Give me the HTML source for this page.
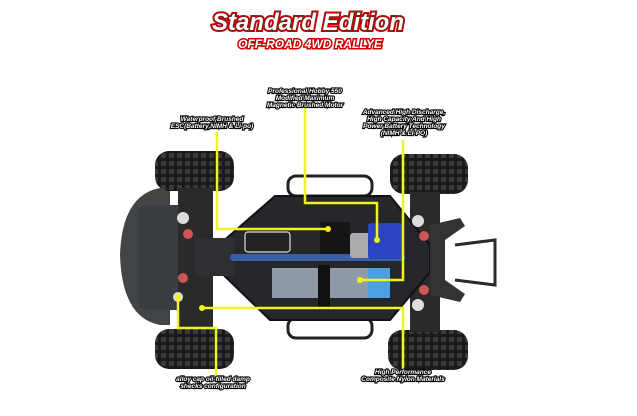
<!DOCTYPE html>
<html><head><meta charset="utf-8"><style>
html,body{margin:0;padding:0;background:#fff;}
svg{display:block}
.t{font-family:"Liberation Sans",sans-serif;font-weight:bold;font-style:italic;}
.lb{font-family:"Liberation Sans",sans-serif;font-weight:bold;font-style:italic;font-size:6.5px;fill:#fff;stroke:#000;stroke-width:2.2px;paint-order:stroke;text-anchor:middle;}
</style></head><body>
<svg width="637" height="416" viewBox="0 0 637 416">
<defs>
<pattern id="tr" width="8" height="8" patternUnits="userSpaceOnUse">
<rect width="8" height="8" fill="#1a1a1a"/><rect x="1" y="1" width="5" height="5" rx="1" fill="#3a3a3a"/></pattern>
</defs>
<!-- title -->
<text x="308" y="30" text-anchor="middle" class="t" font-size="24" fill="#fff" stroke="#c00" stroke-width="4" paint-order="stroke">Standard Edition</text>
<text x="308" y="30" text-anchor="middle" class="t" font-size="24" fill="#fff" stroke="#333" stroke-width="1" paint-order="stroke">Standard Edition</text>
<text x="310" y="48" text-anchor="middle" class="t" font-size="12" fill="#fff" stroke="#c00" stroke-width="3" paint-order="stroke">OFF-ROAD 4WD RALLYE</text>

<!-- front plate -->
<path d="M160,188 Q122,195 120,255 Q122,318 160,325 L170,325 L170,188Z" fill="#444"/>
<rect x="138" y="205" width="60" height="105" rx="8" fill="#3a3d42"/>
<!-- wheels -->
<rect x="155" y="151" width="79" height="40" rx="14" fill="url(#tr)"/>
<rect x="390" y="154" width="78" height="40" rx="14" fill="url(#tr)"/>
<rect x="155" y="329" width="79" height="40" rx="14" fill="url(#tr)"/>
<rect x="388" y="330" width="80" height="40" rx="14" fill="url(#tr)"/>
<!-- suspension arms -->
<rect x="178" y="188" width="35" height="140" fill="#2a2a2a"/>
<rect x="410" y="192" width="30" height="140" fill="#2a2a2a"/>
<!-- bumper tubes -->
<rect x="288" y="176" width="84" height="20" rx="8" fill="none" stroke="#222" stroke-width="3"/>
<rect x="288" y="318" width="84" height="20" rx="8" fill="none" stroke="#222" stroke-width="3"/>
<!-- chassis -->
<path d="M205,257 L275,196 L390,196 L430,245 L430,272 L390,320 L270,320 Z" fill="#25272b" stroke="#111" stroke-width="2"/>
<rect x="195" y="238" width="40" height="38" fill="#2d2f33"/>
<!-- shaft -->
<rect x="230" y="254" width="175" height="7" rx="3" fill="#3a5fa8"/>
<!-- electronics -->
<rect x="245" y="232" width="45" height="20" rx="3" fill="#222" stroke="#ddd" stroke-width="1.2"/>
<rect x="320" y="222" width="30" height="32" fill="#151515"/>
<rect x="350" y="233" width="40" height="25" rx="3" fill="#aaa"/>
<rect x="368" y="223" width="34" height="36" rx="3" fill="#2b44c4"/>
<rect x="272" y="268" width="96" height="30" fill="#8f9aa8"/>
<rect x="368" y="268" width="22" height="30" fill="#4aa0e0"/>
<rect x="318" y="265" width="12" height="45" fill="#111"/>
<!-- shocks -->
<circle cx="183" cy="218" r="6" fill="#ddd"/><circle cx="188" cy="234" r="5" fill="#c55"/>
<circle cx="183" cy="278" r="5" fill="#c55"/><circle cx="178" cy="297" r="5" fill="#ddd"/>
<circle cx="418" cy="221" r="6" fill="#ddd"/><circle cx="424" cy="236" r="5" fill="#c55"/>
<circle cx="424" cy="290" r="5" fill="#c55"/><circle cx="418" cy="305" r="6" fill="#ddd"/>
<!-- rear bumper -->
<path d="M430,225 L460,218 L465,226 L445,240 L445,280 L465,294 L460,302 L430,295Z" fill="#333"/>
<path d="M455,245 L495,240 L495,285 L455,280" fill="none" stroke="#2a2a2a" stroke-width="3"/>
<!-- yellow lines -->
<g fill="none" stroke="#f2f21e" stroke-width="2.5">
<polyline points="217,132 217,229 328,229"/>
<polyline points="305,108 305,203 377,203 377,240"/>
<polyline points="403,140 403,280 360,280"/>
<polyline points="202,308 403,308 403,370"/>
<polyline points="178,297 178,328 216,328 216,376"/>
</g>
<g fill="#f2f21e"><circle cx="328" cy="229" r="3"/><circle cx="377" cy="240" r="3"/><circle cx="360" cy="280" r="3"/><circle cx="202" cy="308" r="3"/><circle cx="178" cy="297" r="3"/></g>
<!-- labels -->
<text class="lb" x="305" y="93">Professional Hobby 550</text>
<text class="lb" x="305" y="100">Modified Maximum</text>
<text class="lb" x="305" y="107">Magnetic Brushed Motor</text>
<text class="lb" x="212" y="121">Waterproof Brushed</text>
<text class="lb" x="212" y="128">ESC(Battery,NIMH &amp; Li-po)</text>
<text class="lb" x="404" y="114">Advanced High Discharge,</text>
<text class="lb" x="404" y="121">High Capacity And High</text>
<text class="lb" x="404" y="128">Power Battery Technology</text>
<text class="lb" x="404" y="135">(NIMH &amp; LI-PO)</text>
<text class="lb" x="213" y="381">alloy cap oil-filled damp</text>
<text class="lb" x="213" y="388">shecks configuration</text>
<text class="lb" x="403" y="374">High Performance</text>
<text class="lb" x="403" y="381">Composite Nylon Materials</text>
</svg>
</body></html>
